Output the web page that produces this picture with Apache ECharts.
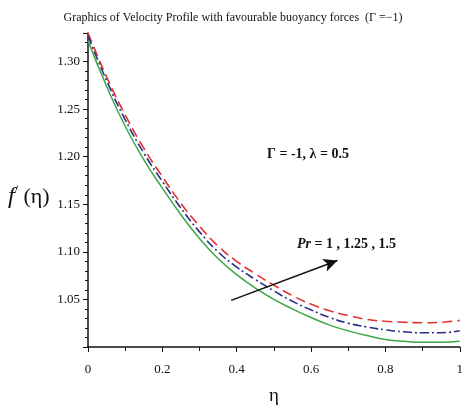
<!DOCTYPE html>
<html>
<head>
<meta charset="utf-8">
<script src="https://cdn.jsdelivr.net/npm/echarts@6/dist/echarts.min.js"></script>
<style>html,body{margin:0;padding:0;background:#fff;}#c{width:466px;height:411px;}</style>
</head>
<body>
<div id="c"></div>
<script>
const eta = [0,0.05,0.1,0.15,0.2,0.25,0.3,0.35,0.4,0.45,0.5,0.55,0.6,0.65,0.7,0.75,0.8,0.85,0.9,0.95,1.0];
const prRed = [1.330,1.284,1.244,1.209,1.179,1.151,1.127,1.106,1.090,1.077,1.065,1.054,1.045,1.038,1.033,1.029,1.027,1.026,1.0255,1.026,1.028];
const prBlue = [1.327,1.280,1.239,1.204,1.174,1.146,1.121,1.100,1.084,1.071,1.059,1.048,1.039,1.031,1.025,1.021,1.018,1.016,1.015,1.015,1.017];
const prGreen = [1.322,1.274,1.232,1.197,1.167,1.139,1.114,1.093,1.076,1.062,1.050,1.040,1.031,1.023,1.017,1.012,1.008,1.006,1.005,1.005,1.006];
const arrowFrom = [0.385, 1.049];
const arrowTo = [0.671, 1.091];
const titleText = 'Graphics of Velocity Profile with favourable buoyancy forces  (\u0393 =\u22121)';

const pairs = a => eta.map((x,i)=>[x,a[i]]);
const serif = '"Liberation Serif","DejaVu Serif",serif';
const chart = echarts.init(document.getElementById('c'));
chart.setOption({
  animation:false,
  backgroundColor:'#fff',
  title:{text:titleText,left:'center',top:7,textStyle:{fontFamily:serif,fontSize:12,fontWeight:'normal',color:'#111'}},
  grid:{left:88,right:1,top:33,bottom:56,containLabel:false},
  xAxis:{type:'value',min:0,max:1,interval:0.2,
    axisLine:{lineStyle:{color:'#111',width:1.5}},
    axisTick:{length:5,lineStyle:{color:'#111'}},
    minorTick:{show:true,splitNumber:2,length:4,lineStyle:{color:'#111'}},
    splitLine:{show:false},
    axisLabel:{fontFamily:serif,fontSize:13,color:'#111',margin:16,
      formatter:v=>v===0?'0':(v===1?'1':v.toFixed(1))},
    name:'\u03b7',nameLocation:'middle',nameGap:40,nameTextStyle:{fontFamily:serif,fontSize:19,color:'#111'}},
  yAxis:{type:'value',min:1.0,max:1.33,interval:0.05,
    axisLine:{lineStyle:{color:'#111',width:1.5}},
    axisTick:{length:5,lineStyle:{color:'#111'}},
    minorTick:{show:true,splitNumber:5,length:3,lineStyle:{color:'#111'}},
    splitLine:{show:false},
    axisLabel:{fontFamily:serif,fontSize:13,color:'#111',margin:8,
      formatter:v=>{const k=Math.round(v*20);return (Math.abs(v*20-k)<1e-6 && k>=21 && k<=26)?v.toFixed(2):'';}}},
  series:[
    {type:'line',data:pairs(prRed),smooth:true,showSymbol:false,lineStyle:{color:'#e3302f',width:1.6,type:[10,5]},
      markLine:{silent:true,symbol:['none','arrow'],symbolSize:[10,14],label:{show:false},
        lineStyle:{color:'#111',width:1.6,type:'solid'},
        data:[[{coord:arrowFrom},{coord:arrowTo}]]}},
    {type:'line',data:pairs(prBlue),smooth:true,showSymbol:false,lineStyle:{color:'#2a2f86',width:1.6,type:[9,3,2,3]}},
    {type:'line',data:pairs(prGreen),smooth:true,showSymbol:false,lineStyle:{color:'#3aa845',width:1.5,type:'solid'}}
  ],
  graphic:[
    {type:'text',left:267,top:147,style:{text:'\u0393 = -1, \u03bb = 0.5',font:'bold 14px '+serif,fill:'#111'}},
    {type:'text',left:297,top:237,style:{text:'{i|Pr} = 1 , 1.25 , 1.5',font:'bold 14px '+serif,fill:'#111',
      rich:{i:{fontStyle:'italic',fontWeight:'bold',fontSize:14,fontFamily:serif}}}},
    {type:'text',left:8,top:184,style:{text:'{f|f}{p|/}{n| (\u03b7)}',fill:'#111',
      rich:{f:{fontFamily:serif,fontStyle:'italic',fontSize:24},p:{fontFamily:serif,fontSize:12,padding:[0,0,14,0]},n:{fontFamily:serif,fontSize:22}}}}
  ]
});
</script>
</body>
</html>
